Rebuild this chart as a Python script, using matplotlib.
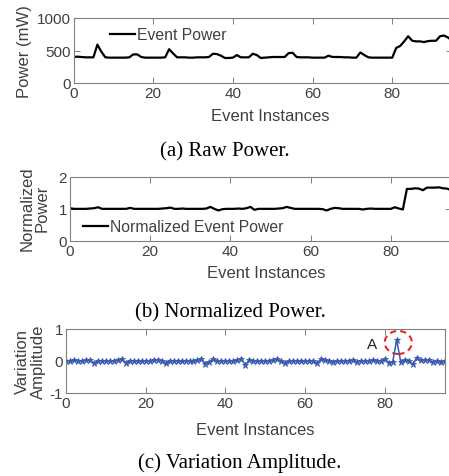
import matplotlib
matplotlib.use("Agg")
import matplotlib.pyplot as plt
from matplotlib.patches import Ellipse
import numpy as np

plt.rcParams["axes.unicode_minus"] = False

# ---------------- data ----------------
instances = list(range(96))

raw_power = [400, 405, 400, 395, 395, 395, 590, 480, 395, 390,
             390, 390, 390, 390, 395, 440, 440, 400, 390, 390,
             390, 390, 390, 395, 520, 455, 395, 395, 395, 390,
             390, 395, 395, 395, 400, 450, 445, 420, 385, 385,
             390, 430, 395, 395, 395, 450, 430, 385, 390, 395,
             400, 400, 400, 400, 460, 465, 400, 395, 395, 395,
             390, 390, 390, 390, 420, 400, 400, 400, 395, 395,
             390, 390, 470, 430, 395, 390, 390, 390, 390, 390,
             390, 540, 570, 640, 720, 650, 640, 640, 630, 645,
             650, 650, 720, 730, 700, 650]

norm_power = [1.02, 1.00, 1.00, 1.00, 1.00, 1.01, 1.02, 1.05, 1.00, 1.00,
              1.00, 1.00, 1.00, 1.00, 1.00, 1.03, 1.00, 1.00, 1.00, 1.00,
              1.00, 1.00, 1.00, 1.01, 1.02, 1.04, 1.00, 1.00, 1.01, 1.00,
              1.00, 1.00, 1.00, 1.00, 1.01, 1.06, 1.00, 0.95, 0.99, 1.00,
              1.00, 1.00, 1.01, 1.00, 1.02, 1.06, 0.97, 1.00, 1.00, 1.00,
              1.00, 1.00, 1.01, 1.02, 1.06, 1.03, 1.00, 1.00, 1.00, 1.00,
              1.00, 1.00, 1.00, 0.99, 0.95, 1.00, 1.03, 1.02, 1.00, 1.00,
              1.00, 1.00, 1.00, 0.98, 1.00, 1.01, 1.00, 1.00, 1.00, 1.00,
              1.00, 1.05, 1.01, 0.98, 1.62, 1.62, 1.64, 1.63, 1.58, 1.66,
              1.66, 1.66, 1.67, 1.64, 1.63, 1.58]

variation = [0.00, -0.01, 0.02, 0.01, 0.00, 0.02, 0.02, -0.07, 0.00, 0.01,
             0.00, 0.01, 0.00, 0.02, 0.05, -0.05, 0.00, 0.01, 0.00, -0.01,
             0.01, 0.00, 0.02, 0.03, 0.01, -0.06, 0.01, 0.00, 0.01, -0.01,
             0.00, 0.01, 0.00, 0.02, 0.06, -0.08, -0.02, 0.06, 0.00, 0.01,
             0.00, 0.01, 0.00, 0.02, 0.07, -0.12, 0.03, 0.01, 0.00, 0.01,
             0.00, -0.01, 0.02, 0.05, -0.01, -0.05, 0.01, 0.00, 0.01, -0.01,
             0.00, 0.01, -0.01, -0.05, 0.05, 0.03, 0.00, -0.02, 0.00, 0.01,
             0.00, 0.01, 0.02, -0.02, 0.01, 0.00, 0.01, 0.02, 0.00, 0.01,
             0.05, -0.05, -0.02, 0.66, -0.02, 0.04, 0.00, -0.10, 0.09, 0.03,
             0.02, 0.03, -0.03, 0.01, -0.03, 0.00]

x_ticks = [0, 20, 40, 60, 80]
captions = ["(a) Raw Power.", "(b) Normalized Power.", "(c) Variation Amplitude."]

# ---------------- style ----------------
W, H = 449, 477
fig = plt.figure(figsize=(W / 100, H / 100), dpi=100)
fig.patch.set_facecolor("white")

SANS = ["Liberation Sans", "DejaVu Sans"]
SERIF = ["Liberation Serif", "DejaVu Serif"]
TXT = "#404040"
SPINE = "#808080"
TICK_FS = 11
LAB_FS = 12
LEG_FS = 11.3


def rect(l, r, t, b):
    return [l / W, 1 - b / H, (r - l) / W, (b - t) / H]


def style(ax, ylim, yticks):
    ax.set_xlim(0, 95)
    ax.set_ylim(*ylim)
    ax.set_xticks(x_ticks)
    ax.set_yticks(yticks)
    for s in ax.spines.values():
        s.set_color(SPINE)
        s.set_linewidth(0.8)
    ax.tick_params(direction="in", top=True, right=True, length=4, width=0.7,
                   color=SPINE, labelcolor=TXT, labelsize=TICK_FS, pad=2)
    for lab in ax.get_xticklabels() + ax.get_yticklabels():
        lab.set_family(SANS)


# (a) raw power
ax1 = fig.add_axes(rect(73.5, 452, 19, 84))
ax1.plot(instances, raw_power, color="black", lw=1.6, label="Event Power")
style(ax1, (0, 1000), [0, 500, 1000])
ax1.set_xlabel("Event Instances", family=SANS, fontsize=LAB_FS, color=TXT)
ax1.set_ylabel("Power (mW)", family=SANS, fontsize=LAB_FS, color=TXT)
ax1.xaxis.set_label_coords(0.52, -0.39)
ax1.yaxis.set_label_coords(-0.11, 0.5)
leg = ax1.legend(loc="center left", bbox_to_anchor=(0.096, 0.74), frameon=False,
                 borderpad=0, borderaxespad=0, handlelength=1.6, handletextpad=0.15,
                 prop={"family": SANS, "size": LEG_FS})
for t in leg.get_texts():
    t.set_color(TXT)

# (b) normalized power
ax2 = fig.add_axes(rect(70, 451, 177.7, 242))
ax2.plot(instances, norm_power, color="black", lw=1.6, label="Normalized Event Power")
style(ax2, (0, 2), [0, 1, 2])
ax2.set_xlabel("Event Instances", family=SANS, fontsize=LAB_FS, color=TXT)
ax2.set_ylabel("Normalized\nPower", family=SANS, fontsize=LAB_FS, color=TXT,
               linespacing=1.05)
ax2.xaxis.set_label_coords(0.514, -0.37)
ax2.yaxis.set_label_coords(-0.0525, 0.52)
leg = ax2.legend(loc="center left", bbox_to_anchor=(0.034, 0.22), frameon=False,
                 borderpad=0, borderaxespad=0, handlelength=1.6, handletextpad=0.15,
                 prop={"family": SANS, "size": LEG_FS})
for t in leg.get_texts():
    t.set_color(TXT)

# (c) variation amplitude
ax3 = fig.add_axes(rect(66, 444.5, 330, 394))
ax3.plot(instances, variation, color="#3a5bb0", lw=1.1, marker="*", ms=5,
         mew=0.6)
style(ax3, (-1, 1), [-1, 0, 1])
ax3.set_xlabel("Event Instances", family=SANS, fontsize=LAB_FS, color=TXT)
ax3.set_ylabel("Variation\nAmplitude", family=SANS, fontsize=LAB_FS, color=TXT,
               linespacing=1.05)
ax3.xaxis.set_label_coords(0.5, -0.46)
ax3.yaxis.set_label_coords(-0.053, 0.5)
ax3.add_patch(Ellipse((83.4, 0.58), 6.8, 0.72, fill=False, edgecolor="#e8242a",
                      lw=1.5, ls=(0, (3, 2))))
ax3.text(76.9, 0.53, "A", family=SANS, fontsize=TICK_FS, color="#222222",
         ha="center", va="center")

# captions
for cx, cy, txt in zip([225, 230, 240], [152, 313, 463], captions):
    fig.text(cx / W, 1 - cy / H, txt, family=SERIF, fontsize=15, color="black",
             ha="center", va="center")

fig.savefig("out.png", dpi=100, facecolor="white")
